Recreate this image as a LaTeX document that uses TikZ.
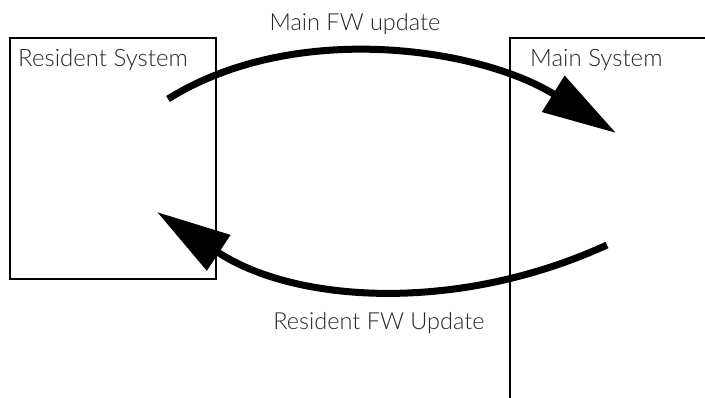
\documentclass[tikz,border=0pt]{standalone}
\usepackage{fontspec}
\setmainfont{Lato}[UprightFont=* Light]
\usetikzlibrary{arrows.meta,positioning}

\begin{document}
\begin{tikzpicture}[x=1pt, y=1pt,
  sysbox/.style={draw, line width=2pt, inner sep=0pt, anchor=north west},
  systext/.style={inner sep=0pt, text=black!85, font=\fontsize{24}{28}\selectfont},
  flow/.style={line width=7pt, -{Triangle[length=74pt, width=41pt]}},
  flowtext/.style={inner sep=0pt, text=black!85, font=\fontsize{23.5}{28}\selectfont}]
  \useasboundingbox (0,0) rectangle (705,398);
  \clip (0,0) rectangle (705,398);

  \node[sysbox, minimum width=206pt, minimum height=241pt] (res) at (9,361) {};
  \node[sysbox, minimum width=220pt, minimum height=380pt] (main) at (509,361) {};

  \node[systext, below right=12pt and 9pt of res.north west] (restext) {Resident System};
  \node[systext, below right=12pt and 21pt of main.north west] (maintext) {Main System};

  \coordinate (mainfrom) at (168,299);
  \coordinate (mainto) at (616,265);
  \coordinate (resfrom) at (607,153);
  \coordinate (resto) at (157,186);

  \draw[flow] (mainfrom) .. controls +(32:150) and +(148:160) .. (mainto);
  \draw[flow] (resfrom) .. controls +(204.6:165) and +(-33.5:165) .. (resto);

  \node[flowtext, anchor=base] (mainlabel) at (355,367) {Main FW update};
  \node[flowtext, anchor=base] (reslabel) at (379,68) {Resident FW Update};
\end{tikzpicture}
\end{document}
